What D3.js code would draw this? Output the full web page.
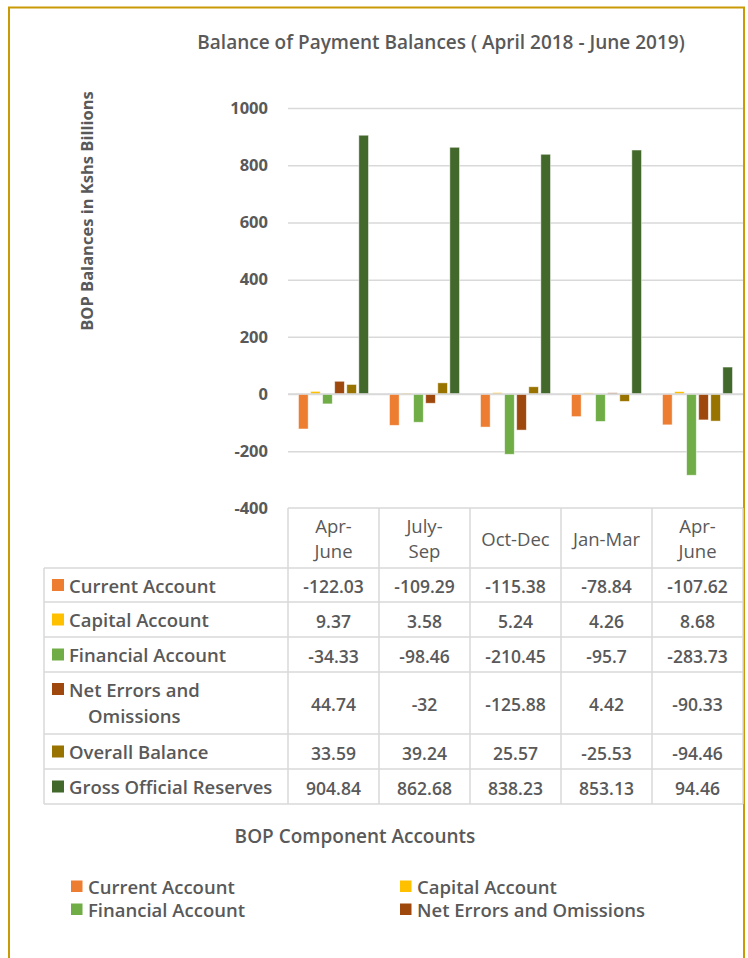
<!DOCTYPE html>
<html>
<head>
<meta charset="utf-8">
<script src="https://cdn.jsdelivr.net/npm/d3@7/dist/d3.min.js"></script>
<style>
  html, body { margin: 0; padding: 0; background: #fff; }
  svg { display: block; font-family: "Open Sans", "Noto Sans", sans-serif; }
</style>
</head>
<body>
<svg id="chart" width="748" height="958"></svg>
<script>
// ---- data ----
const categoryLines = [["Apr-", "June"], ["July-", "Sep"], ["Oct-Dec"], ["Jan-Mar"], ["Apr-", "June"]];
const seriesNames = ["Current Account", "Capital Account", "Financial Account", "Net Errors and Omissions", "Overall Balance", "Gross Official Reserves"];
const seriesRowLabels = [["Current Account"], ["Capital Account"], ["Financial Account"], ["Net Errors and", "Omissions"], ["Overall Balance"], ["Gross Official Reserves"]];
const currentAccount = [-122.03, -109.29, -115.38, -78.84, -107.62];
const capitalAccount = [9.37, 3.58, 5.24, 4.26, 8.68];
const financialAccount = [-34.33, -98.46, -210.45, -95.7, -283.73];
const netErrors = [44.74, -32, -125.88, 4.42, -90.33];
const overallBalance = [33.59, 39.24, 25.57, -25.53, -94.46];
const grossReserves = [904.84, 862.68, 838.23, 853.13, 94.46];
const seriesColors = ["#ED7D31", "#FFC000", "#70AD47", "#9E480E", "#997300", "#43682B"];
const yTicks = [-400, -200, 0, 200, 400, 600, 800, 1000];
const legendShown = [0, 1, 2, 3];

const seriesValues = [currentAccount, capitalAccount, financialAccount, netErrors, overallBalance, grossReserves];

// ---- layout ----
const svg = d3.select("#chart");
const textColor = "#595959";
const gridColor = "#d9d9d9";
const plotLeft = 288, plotRight = 743, plotTop = 108, plotBottom = 508.5;

svg.append("rect").attr("x", 0).attr("y", 0).attr("width", 748).attr("height", 958).attr("fill", "#fff");
// outer border
svg.append("rect").attr("x", 9).attr("y", 7.5).attr("width", 735).attr("height", 970)
  .attr("fill", "none").attr("stroke", "#C99A06").attr("stroke-width", 2);

// title
svg.append("text").attr("x", 441).attr("y", 42).attr("text-anchor", "middle")
  .attr("dominant-baseline", "central")
  .attr("fill", textColor).attr("font-size", 19).attr("font-weight", 600)
  .text("Balance of Payment Balances ( April 2018 - June 2019)");

// y axis title
svg.append("text").attr("transform", "translate(86,211) rotate(-90)")
  .attr("text-anchor", "middle").attr("dominant-baseline", "central")
  .attr("fill", textColor).attr("font-size", 16.5).attr("font-weight", 700)
  .text("BOP Balances in Kshs Billions");

const idx = d3.range(categoryLines.length);
const x0 = d3.scaleBand().domain(idx).range([plotLeft, plotRight]).padding(0);
const x1 = d3.scaleBand().domain(d3.range(seriesNames.length))
  .range([10.5, x0.bandwidth() - 10.5]).paddingInner(0.2);
const y = d3.scaleLinear().domain([-400, 1000]).range([plotBottom, plotTop]);

// gridlines + tick labels via axis
const yAxis = d3.axisLeft(y).tickValues(yTicks).tickFormat(d => String(d))
  .tickSize(-(plotRight - plotLeft)).tickPadding(20);
const ga = svg.append("g").attr("transform", `translate(${plotLeft},0)`).call(yAxis);
ga.select(".domain").remove();
ga.selectAll(".tick line").attr("stroke", gridColor).attr("stroke-width", 1.5);
ga.selectAll(".tick text").attr("fill", textColor).attr("font-size", 16.5).attr("font-weight", 700)
  .attr("font-family", "'Open Sans', sans-serif").attr("x", -20);
ga.selectAll(".tick").filter(d => d === -400).select("line").remove();

// bars
const groups = svg.append("g").selectAll("g").data(idx).join("g")
  .attr("transform", i => `translate(${x0(i)},0)`);
groups.selectAll("rect").data(i => seriesValues.map((vals, s) => ({ s, v: vals[i] }))).join("rect")
  .attr("x", d => x1(d.s))
  .attr("width", x1.bandwidth())
  .attr("y", d => y(Math.max(0, d.v)))
  .attr("height", d => Math.abs(y(d.v) - y(0)))
  .attr("fill", d => seriesColors[d.s])
  .attr("stroke", "#ffffff").attr("stroke-opacity", 0.6).attr("stroke-width", 0.8);

// zero line on top
svg.append("line").attr("x1", plotLeft).attr("x2", plotRight).attr("y1", y(0)).attr("y2", y(0))
  .attr("stroke", gridColor).attr("stroke-width", 1.5);

// ---- data table ----
const tableLeft = 44;
const headerTop = 508, headerBottom = 568;
const rowHeights = [34, 35, 35, 62, 35, 35];
const rowTops = [];
let acc = headerBottom;
rowHeights.forEach(h => { rowTops.push(acc); acc += h; });
const tableBottom = acc;
const tg = svg.append("g");
const lineAttr = sel => sel.attr("stroke", gridColor).attr("stroke-width", 1.5);

lineAttr(tg.append("line").attr("x1", plotLeft).attr("x2", plotRight).attr("y1", headerTop).attr("y2", headerTop));
[headerBottom, ...rowTops.slice(1), tableBottom].forEach(yy => {
  lineAttr(tg.append("line").attr("x1", tableLeft).attr("x2", plotRight).attr("y1", yy).attr("y2", yy));
});
lineAttr(tg.append("line").attr("x1", tableLeft).attr("x2", tableLeft).attr("y1", headerBottom).attr("y2", tableBottom));
[...idx.map(i => x0(i)), plotRight].forEach(xx => {
  lineAttr(tg.append("line").attr("x1", xx).attr("x2", xx).attr("y1", headerTop).attr("y2", tableBottom));
});

// header labels
idx.forEach(i => {
  const lines = categoryLines[i];
  const cx = x0(i) + x0.bandwidth() / 2;
  const cy = (headerTop + headerBottom) / 2;
  lines.forEach((ln, k) => {
    tg.append("text").attr("x", cx).attr("y", cy + (k - (lines.length - 1) / 2) * 25)
      .attr("text-anchor", "middle").attr("dominant-baseline", "central")
      .attr("fill", textColor).attr("font-size", 18.5).attr("font-weight", 500).text(ln);
  });
});

// rows
seriesNames.forEach((name, s) => {
  const top = rowTops[s], h = rowHeights[s];
  const lines = seriesRowLabels[s];
  const firstY = lines.length > 1 ? top + 17 : top + h / 2;
  tg.append("rect").attr("x", 52).attr("y", firstY - 6).attr("width", 12).attr("height", 12)
    .attr("fill", seriesColors[s]);
  lines.forEach((ln, k) => {
    tg.append("text").attr("x", k === 0 ? 69 : 88).attr("y", firstY + k * 26)
      .attr("dominant-baseline", "central").attr("fill", textColor)
      .attr("font-size", 18.5).attr("font-weight", 600).text(ln);
  });
  idx.forEach(i => {
    tg.append("text").attr("x", x0(i) + x0.bandwidth() / 2).attr("y", top + h / 2 + 1)
      .attr("text-anchor", "middle").attr("dominant-baseline", "central")
      .attr("fill", textColor).attr("font-size", 17.5).attr("font-weight", 600)
      .text(String(seriesValues[s][i]));
  });
});

// x axis title
svg.append("text").attr("x", 355).attr("y", 836).attr("text-anchor", "middle")
  .attr("dominant-baseline", "central").attr("fill", textColor)
  .attr("font-size", 19).attr("font-weight", 600).text("BOP Component Accounts");

// legend
const legendPos = [[71, 886], [400, 886], [71, 909], [400, 909]];
legendShown.forEach((s, k) => {
  const [lx, ly] = legendPos[k];
  svg.append("rect").attr("x", lx).attr("y", ly - 5.5).attr("width", 11.5).attr("height", 11.5)
    .attr("fill", seriesColors[s]);
  svg.append("text").attr("x", lx + 17).attr("y", ly).attr("dominant-baseline", "central")
    .attr("fill", textColor).attr("font-size", 18.5).attr("font-weight", 600).text(seriesNames[s]);
});
</script>
</body>
</html>
